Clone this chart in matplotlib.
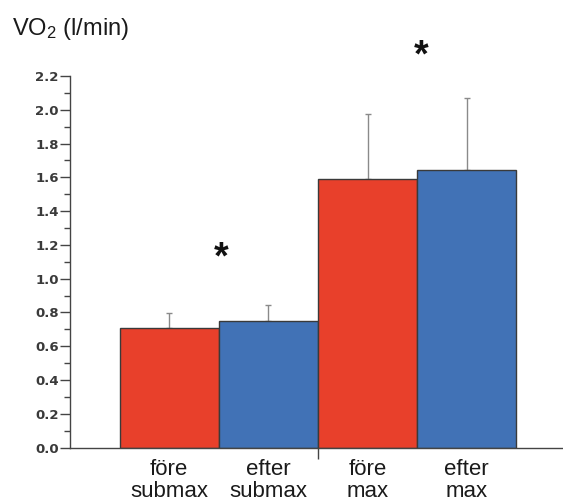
import matplotlib
matplotlib.use("Agg")
import matplotlib.pyplot as plt
import numpy as np

categories = ["före\nsubmax", "efter\nsubmax", "före\nmax", "efter\nmax"]
values = [0.71, 0.752, 1.588, 1.645]
errors = [0.085, 0.09, 0.39, 0.425]
colors = ["#E8402B", "#4172B6", "#E8402B", "#4172B6"]
yticks = [0.0, 0.2, 0.4, 0.6, 0.8, 1.0, 1.2, 1.4, 1.6, 1.8, 2.0, 2.2]
star_x = [0.52, 2.54]
star_y = [1.063, 2.258]

plt.rcParams['font.family'] = ['Liberation Sans', 'DejaVu Sans']
plt.rcParams['mathtext.fontset'] = 'custom'
plt.rcParams['mathtext.rm'] = 'Liberation Sans'
plt.rcParams['mathtext.it'] = 'Liberation Sans:italic'

fig = plt.figure(figsize=(5.63, 5.04), dpi=100)
ax = fig.add_axes([0.1243, 0.1121, 0.8757, 0.7370])

x = np.arange(len(values))
ax.bar(x, values, width=1.0, color=colors, edgecolor="#3a3a3a", linewidth=1.0, zorder=2)
ax.errorbar(x, values, yerr=[np.zeros(len(errors)), errors], fmt="none",
            ecolor="#8a8a8a", elinewidth=1.0, capsize=2.5, capthick=1.0, zorder=1)

for sx, sy in zip(star_x, star_y):
    ax.text(sx, sy, "*", ha="center", va="baseline", fontsize=27, fontweight="bold",
            color="#111111", clip_on=False)

ax.set_xlim(-1.0, 3.97)
ax.set_ylim(0, 2.2)
ax.set_yticks(yticks)
ax.set_yticklabels([f"{t:.1f}" for t in yticks], family="DejaVu Sans",
                   fontweight="bold")
ax.set_yticks(np.arange(0.1, 2.2, 0.2), minor=True)
ax.set_xticks([1.5])
ax.set_xticklabels([""])
for i, c in enumerate(categories):
    ax.text(x[i], -0.066, c, ha="center", va="top", fontsize=16, linespacing=1.08,
            color="#1a1a1a", clip_on=False)

ax.spines["top"].set_visible(False)
ax.spines["right"].set_visible(False)
for s in ["left", "bottom"]:
    ax.spines[s].set_color("#444444")
    ax.spines[s].set_linewidth(1.0)
ax.tick_params(axis="y", which="major", length=7, width=1.0, color="#444444",
               labelsize=9.5, pad=1, labelcolor="#3a3a3a")
ax.tick_params(axis="y", which="minor", length=4, width=1.0, color="#444444")
ax.tick_params(axis="x", which="major", length=8, width=1.0, color="#444444")

fig.text(0.0213, 0.9306, r"VO$_2$ (l/min)", fontsize=17, ha="left", va="baseline",
         color="#1a1a1a")

fig.savefig("out.png", dpi=100)
